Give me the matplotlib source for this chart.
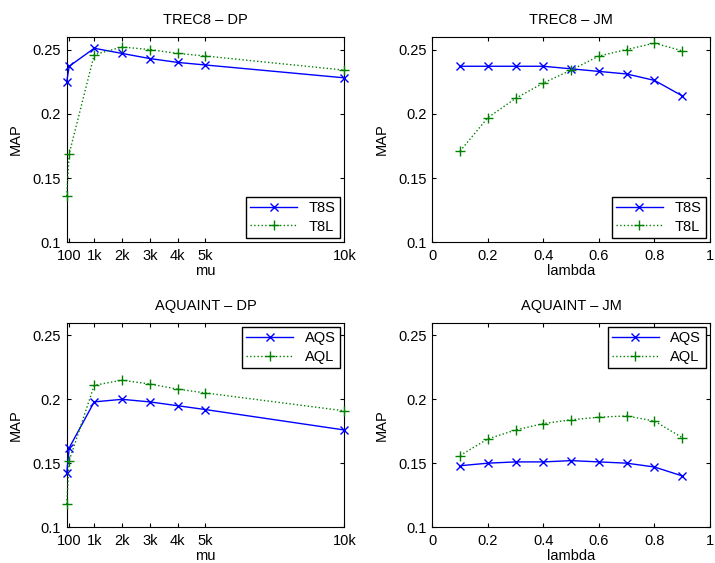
import matplotlib
matplotlib.use("Agg")
import matplotlib.pyplot as plt

plt.rcParams['font.family'] = ['Liberation Sans', 'DejaVu Sans']
plt.rcParams['font.size'] = 10.5

mu = [10, 100, 1000, 2000, 3000, 4000, 5000, 10000]
mu_ticks = [100, 1000, 2000, 3000, 4000, 5000, 10000]
mu_labels = ['100', '1k', '2k', '3k', '4k', '5k', '10k']
lam = [0.1, 0.2, 0.3, 0.4, 0.5, 0.6, 0.7, 0.8, 0.9]
lam_ticks = [0, 0.2, 0.4, 0.6, 0.8, 1]
lam_labels = ['0', '0.2', '0.4', '0.6', '0.8', '1']
map_ticks = [0.1, 0.15, 0.2, 0.25]
map_labels = ['0.1', '0.15', '0.2', '0.25']

t8s_dp = [0.225, 0.237, 0.251, 0.247, 0.243, 0.240, 0.238, 0.228]
t8l_dp = [0.136, 0.169, 0.246, 0.252, 0.250, 0.247, 0.245, 0.234]
t8s_jm = [0.237, 0.237, 0.237, 0.237, 0.235, 0.233, 0.231, 0.226, 0.214]
t8l_jm = [0.171, 0.197, 0.212, 0.224, 0.234, 0.245, 0.250, 0.255, 0.249]
aqs_dp = [0.142, 0.162, 0.198, 0.200, 0.198, 0.195, 0.192, 0.176]
aql_dp = [0.118, 0.152, 0.211, 0.215, 0.212, 0.208, 0.205, 0.191]
aqs_jm = [0.148, 0.150, 0.151, 0.151, 0.152, 0.151, 0.150, 0.147, 0.140]
aql_jm = [0.156, 0.169, 0.176, 0.181, 0.184, 0.186, 0.187, 0.183, 0.170]

fig = plt.figure(figsize=(7.15, 5.63), dpi=100)

boxes = [
    [0.0933, 0.5696, 0.3882, 0.3652],
    [0.6046, 0.5696, 0.3884, 0.3652],
    [0.0933, 0.0639, 0.3882, 0.3629],
    [0.6046, 0.0639, 0.3884, 0.3629],
]
panels = [
    ('TREC8 \u2013 DP', mu, t8s_dp, t8l_dp, 'T8S', 'T8L', 'mu', 'lower right'),
    ('TREC8 \u2013 JM', lam, t8s_jm, t8l_jm, 'T8S', 'T8L', 'lambda', 'lower right'),
    ('AQUAINT \u2013 DP', mu, aqs_dp, aql_dp, 'AQS', 'AQL', 'mu', 'upper right'),
    ('AQUAINT \u2013 JM', lam, aqs_jm, aql_jm, 'AQS', 'AQL', 'lambda', 'upper right'),
]

for box, (title, x, s, l, sname, lname, xlab, loc) in zip(boxes, panels):
    ax = fig.add_axes(box)
    ax.plot(x, s, color='#0000ff', marker='x', ms=5.5, mew=1, lw=1,
            label=sname, clip_on=False, zorder=3)
    ax.plot(x, l, color='#008000', marker='+', ms=7.5, mew=1, lw=1, ls=':',
            label=lname, clip_on=False, zorder=3)
    ax.set_ylim(0.1, 0.26)
    ax.set_yticks(map_ticks)
    ax.set_yticklabels(map_labels)
    if xlab == 'mu':
        ax.set_xlim(10, 10000)
        ax.set_xticks(mu_ticks)
        ax.set_xticklabels(mu_labels)
    else:
        ax.set_xlim(0, 1)
        ax.set_xticks(lam_ticks)
        ax.set_xticklabels(lam_labels)
    ax.tick_params(direction='in', length=3, top=True, right=True)
    ax.tick_params(axis='x', pad=5)
    ax.tick_params(axis='y', pad=4)
    ax.set_title(title, fontsize=10.5, pad=9)
    ax.set_xlabel(xlab, labelpad=0.5)
    ax.set_ylabel('MAP', labelpad=7)
    leg = ax.legend(loc=loc, fancybox=False, framealpha=1, edgecolor='black',
                    borderaxespad=0.3, handlelength=3.2, borderpad=0.3,
                    labelspacing=0.3)
    leg.get_frame().set_linewidth(1)

fig.savefig('out.png', dpi=100)
